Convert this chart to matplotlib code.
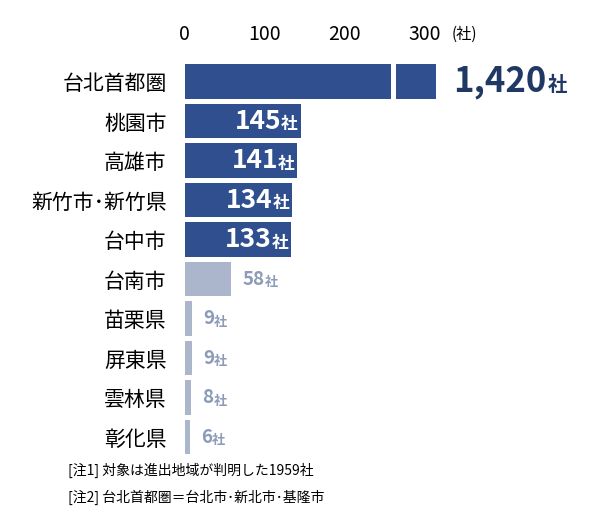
import matplotlib
matplotlib.use("Agg")
import matplotlib.pyplot as plt
from matplotlib.transforms import offset_copy

plt.rcParams["font.family"] = "Noto Sans CJK JP"

categories = ["台北首都圏", "桃園市", "高雄市", "新竹市･新竹県", "台中市",
              "台南市", "苗栗県", "屏東県", "雲林県", "彰化県"]
values = [1420, 145, 141, 134, 133, 58, 9, 9, 8, 6]
highlight = [True, True, True, True, True, False, False, False, False, False]
ticks = [0, 100, 200, 300]
notes = ["[注1] 対象は進出地域が判明した1959社",
         "[注2] 台北首都圏＝台北市･新北市･基隆市"]

# broken first bar: drawn part, gap, tail
break_at, tail_start, tail_end = 258, 264, 314

dark = "#2f4f8f"
light = "#abb6cc"
light_txt = "#8c9bb8"
navy = "#1f3864"

fig = plt.figure(figsize=(6, 5.24), dpi=100)
ax = fig.add_axes([0.308, 0.128, 0.692, 0.754])
ax.set_xlim(0, 520)
n = len(categories)
ax.set_ylim(n - 0.5, -0.5)

for i, (v, hl) in enumerate(zip(values, highlight)):
    c = dark if hl else light
    if v > tail_end:
        ax.barh(i, break_at, height=0.87, color=c)
        ax.barh(i, tail_end - tail_start, left=tail_start, height=0.87, color=c)
    else:
        ax.barh(i, v, height=0.87, color=c)

fig.canvas.draw()
r = fig.canvas.get_renderer()

for i, (v, hl) in enumerate(zip(values, highlight)):
    if v > tail_end:
        t = ax.text(tail_end, i, f"{v:,}", ha="left", va="center", fontsize=25,
                    fontweight="bold", color=navy,
                    transform=offset_copy(ax.transData, fig, x=13, units="points"))
        w = t.get_window_extent(r).width
        ax.text(tail_end, i + 0.1, "社", ha="left", va="center", fontsize=14,
                fontweight="bold", color=navy,
                transform=offset_copy(ax.transData, fig, x=13 + w * 72 / fig.dpi + 1, units="points"))
    elif hl:
        s = ax.text(v, i + 0.08, "社", ha="right", va="center", fontsize=12,
                    fontweight="bold", color="white",
                    transform=offset_copy(ax.transData, fig, x=-2, units="points"))
        w = s.get_window_extent(r).width
        ax.text(v, i, str(v), ha="right", va="center", fontsize=19,
                fontweight="bold", color="white",
                transform=offset_copy(ax.transData, fig, x=-2 - w * 72 / fig.dpi, units="points"))
    else:
        t = ax.text(v, i, str(v), ha="left", va="center", fontsize=13.5,
                    fontweight="bold", color=light_txt,
                    transform=offset_copy(ax.transData, fig, x=8, units="points"))
        w = t.get_window_extent(r).width
        ax.text(v, i + 0.08, "社", ha="left", va="center", fontsize=9.5,
                fontweight="bold", color=light_txt,
                transform=offset_copy(ax.transData, fig, x=8 + w * 72 / fig.dpi, units="points"))

ax.set_yticks(range(n))
ax.set_yticklabels(categories, fontsize=15)
ax.tick_params(axis="y", length=0, pad=13)
ax.xaxis.tick_top()
ax.set_xticks(ticks)
ax.set_xticklabels([str(t) for t in ticks], fontsize=14)
ax.tick_params(axis="x", length=0, pad=12)
for sp in ax.spines.values():
    sp.set_visible(False)

fig.text(452 / 600, 1 - 34 / 524, "(社)", fontsize=11, va="center", ha="left")
fig.text(68 / 600, 1 - 470 / 524, notes[0], fontsize=10, va="center")
fig.text(68 / 600, 1 - 497 / 524, notes[1], fontsize=10, va="center")

fig.savefig("out.png", dpi=100)
